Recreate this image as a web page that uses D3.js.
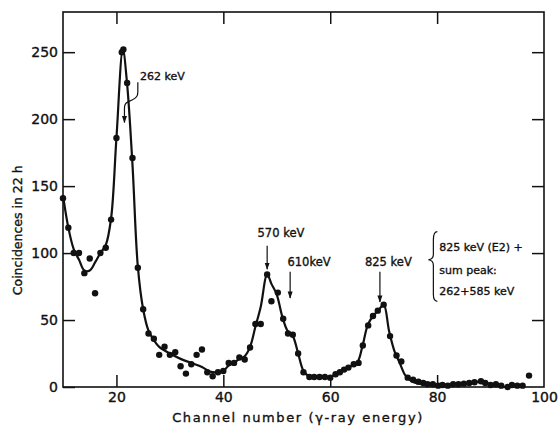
<!DOCTYPE html>
<html>
<head>
<meta charset="utf-8">
<script src="https://cdn.jsdelivr.net/npm/d3@7"></script>
<style>
  body { margin: 0; background: #fff; }
  svg text { font-family: "DejaVu Sans", sans-serif; fill: #111; stroke: #111; stroke-width: 0.35; }
</style>
</head>
<body>
<div id="container"></div>
<script>
const width = 558;
const height = 427;

// measured points: channel and counts
const channels = [10, 11, 12, 13, 14, 15, 16, 17, 18, 19, 20, 21, 21.3, 22, 23, 24, 25, 26, 27, 28,
	29, 30, 31, 32, 33, 34, 35, 36, 37, 38, 39, 40, 41, 42, 43, 44, 45, 46, 47, 48.2,
	49, 50.2, 51.2, 52.1, 53, 54, 55, 56.1, 57, 58, 59, 60, 61, 61.8, 62.6, 63.4, 64.4, 65.3, 66.1, 67.1,
	68, 68.9, 70, 71.2, 72.4, 73.3, 74.5, 75.5, 76.5, 77.4, 78.2, 79.2, 80.2, 81, 82, 83, 84, 85, 86, 87,
	88.2, 89, 90, 91, 92, 93.2, 94, 95, 96, 97.2];
const counts = [141, 119, 100, 100, 85, 96, 70, 100, 104, 125, 186, 250, 252, 227, 171, 89, 58, 40, 36, 24,
	30, 24, 26, 15.5, 10, 17, 24, 28, 11, 8, 11, 12, 18, 18, 22, 20.5, 29.5, 47, 47, 84,
	64, 70.5, 51, 40, 39, 25, 11, 7.5, 7.5, 7.5, 7.5, 7, 9.5, 11, 13, 14.5, 17, 18, 31, 46,
	53, 57, 61.5, 38, 23.5, 19, 7, 5.5, 4, 3, 2, 2, 1, 1.5, 1, 2, 2, 2.5, 3, 3.5,
	4.3, 3, 1.5, 2, 1, 0, 1.5, 1, 1, 8.5];

// hand-drawn fit curve through the spectrum
const curveCh = [10, 11, 12, 13, 14, 15, 16, 17, 18, 19, 20, 21.2, 22, 23, 24, 25, 26, 27, 28, 30,
	32, 34, 36, 37.5, 39, 40, 41, 42, 43, 44, 45, 46, 47, 48.2, 49, 50, 51, 52, 53, 54,
	55, 56, 58, 60, 61, 63, 65, 66, 67, 68, 69, 70, 71, 72, 73, 74, 75, 76, 78, 80,
	83, 85, 88, 90, 93, 96];
const curveCounts = [143, 119, 103, 95, 87, 87, 93, 100, 106, 126, 186, 252, 226, 166, 90, 58, 42, 35, 30, 25,
	21, 18, 15, 11.5, 11, 12, 16, 18, 21, 23, 30, 45, 60, 84, 77, 69, 53, 42, 38, 25,
	12, 8, 7.5, 7, 10, 14, 18, 30, 46, 53, 57, 61.5, 42, 27, 18, 9, 5, 3, 2, 1.5,
	2, 2, 4, 2, 0, 1];

const xTicks = [20, 40, 60, 80, 100];
const yTicks = [0, 50, 100, 150, 200, 250];

// peak labels: text start channel and baseline, arrow channel and its top/tip in counts
const peakLabels = ["570 keV", "610keV", "825 keV"];
const peakTextCh = [46.4, 52, 66.5];
const peakTextY = [112, 90.5, 90.5];
const peakChannels = [48.2, 52.5, 69.3];
const peakArrowTop = [105.5, 86, 86];
const peakArrowTip = [88, 66.5, 63.5];

const noteLines = ["825 keV (E2) +", "sum peak:", "262+585 keV"];
const noteY = [101.8, 84.6, 68.9];

const margin = {left: 63, right: 14, top: 12, bottom: 40};

const x = d3.scaleLinear().domain([10, 100]).range([margin.left, width - margin.right]);
const y = d3.scaleLinear().domain([0, 280]).range([height - margin.bottom, margin.top]);

const svg = d3.select("#container")
	.append("svg")
	.attr("width", width)
	.attr("height", height);

svg.append("defs").append("marker")
	.attr("id", "arrow")
	.attr("viewBox", "0 0 10 10")
	.attr("refX", 9).attr("refY", 5)
	.attr("markerWidth", 6).attr("markerHeight", 6)
	.attr("orient", "auto")
	.append("path")
	.attr("d", "M0,1.5 L10,5 L0,8.5 Z")
	.attr("fill", "#111");

// frame
svg.append("rect")
	.attr("x", x(10)).attr("y", y(280))
	.attr("width", x(100) - x(10)).attr("height", y(0) - y(280))
	.attr("fill", "none").attr("stroke", "#111").attr("stroke-width", 1.6);

// axes, ticks pointing inward
const fmt = d3.format("d");
svg.append("g")
	.attr("transform", "translate(0," + y(0) + ")")
	.call(d3.axisBottom(x).tickValues(xTicks).tickSize(-12).tickPadding(5).tickFormat(fmt))
	.call(g => g.select(".domain").remove())
	.call(g => g.selectAll(".tick").filter(d => d === 100).select("line").remove());
svg.append("g")
	.attr("transform", "translate(0," + y(280) + ")")
	.call(d3.axisTop(x).tickValues([20, 40, 60, 80]).tickSize(-12).tickFormat(""))
	.call(g => g.select(".domain").remove());
svg.append("g")
	.attr("transform", "translate(" + x(10) + ",0)")
	.call(d3.axisLeft(y).tickValues(yTicks).tickSize(-12).tickPadding(5).tickFormat(fmt))
	.call(g => g.select(".domain").remove());
svg.append("g")
	.attr("transform", "translate(" + x(100) + ",0)")
	.call(d3.axisRight(y).tickValues([50, 100, 150, 200, 250]).tickSize(-12).tickFormat(""))
	.call(g => g.select(".domain").remove());

svg.selectAll(".tick line").attr("stroke", "#111").attr("stroke-width", 1.5);
svg.selectAll(".tick text").attr("font-size", 14).attr("fill", "#111")
	.style("font-family", "DejaVu Sans, sans-serif");

// axis titles
svg.append("text")
	.attr("x", 298).attr("y", 422)
	.attr("text-anchor", "middle")
	.attr("font-size", 13)
	.attr("letter-spacing", 1.6)
	.text("Channel number (γ-ray energy)");
svg.append("text")
	.attr("transform", "translate(22," + y(117) + ")rotate(-90)")
	.attr("text-anchor", "middle")
	.attr("font-size", 12.5)
	.text("Coincidences in 22 h");

// fitted curve
const line = d3.line()
	.x((d, i) => x(curveCh[i]))
	.y(d => y(d))
	.curve(d3.curveCatmullRom.alpha(0.5));
svg.append("path")
	.datum(curveCounts)
	.attr("d", line)
	.attr("fill", "none")
	.attr("stroke", "#111")
	.attr("stroke-width", 2.2);

// data points
svg.append("g")
	.selectAll("circle")
	.data(counts)
	.enter()
	.append("circle")
	.attr("cx", (d, i) => x(channels[i]))
	.attr("cy", d => y(d))
	.attr("r", 3.2)
	.attr("fill", "#111");

// 262 keV label with bent leader
svg.append("text")
	.attr("x", x(24.4)).attr("y", y(229))
	.attr("font-size", 11)
	.text("262 keV");
svg.append("path")
	.attr("d", "M" + x(24) + "," + y(227.5) + " L" + x(24) + "," + y(220) +
		" Q" + x(24) + "," + y(216) + " " + x(23) + "," + y(214.5) +
		" L" + x(22) + "," + y(212.5) + " Q" + x(21.5) + "," + y(211.5) + " " + x(21.5) + "," + y(208) +
		" L" + x(21.5) + "," + y(197.5))
	.attr("fill", "none")
	.attr("stroke", "#111")
	.attr("stroke-width", 1.2)
	.attr("marker-end", "url(#arrow)");

// peak arrows
peakLabels.forEach((lab, i) => {
	svg.append("text")
		.attr("x", x(peakTextCh[i]))
		.attr("y", y(peakTextY[i]))
		.attr("font-size", 11.5)
		.text(lab);
	svg.append("line")
		.attr("x1", x(peakChannels[i])).attr("x2", x(peakChannels[i]))
		.attr("y1", y(peakArrowTop[i])).attr("y2", y(peakArrowTip[i]))
		.attr("stroke", "#111")
		.attr("stroke-width", 1.2)
		.attr("marker-end", "url(#arrow)");
});

// brace note
const bx = x(79.3);
svg.append("path")
	.attr("d", "M" + (bx + 4) + "," + y(116) + " Q" + bx + "," + y(116) + " " + bx + "," + y(110) +
		" L" + bx + "," + y(99) + " Q" + bx + "," + y(95.5) + " " + (bx - 5) + "," + y(95) +
		" Q" + bx + "," + y(94.5) + " " + bx + "," + y(91) +
		" L" + bx + "," + y(69) + " Q" + bx + "," + y(64) + " " + (bx + 4) + "," + y(64))
	.attr("fill", "none")
	.attr("stroke", "#111")
	.attr("stroke-width", 1.2);
svg.append("g")
	.selectAll("text")
	.data(noteLines)
	.enter()
	.append("text")
	.attr("x", x(80.4))
	.attr("y", (d, i) => y(noteY[i]))
	.attr("font-size", 11)
	.text(d => d);
</script>
</body>
</html>
